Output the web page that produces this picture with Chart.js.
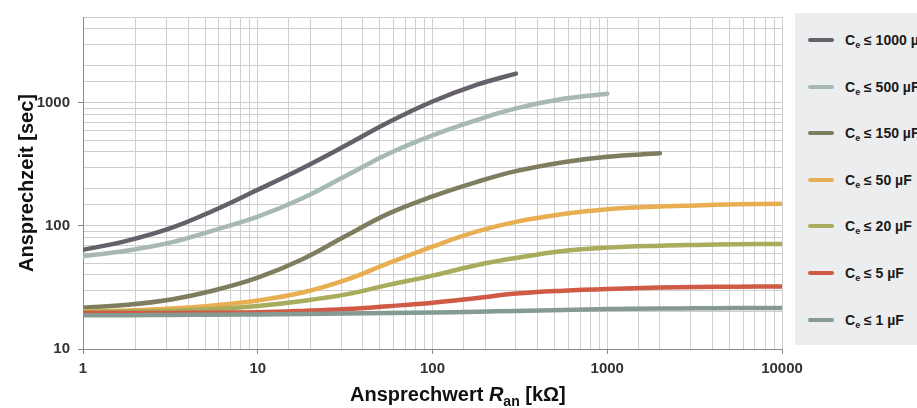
<!DOCTYPE html>
<html>
<head>
<meta charset="utf-8">
<script src="https://cdn.jsdelivr.net/npm/chart.js@4"></script>
<style>
html, body { margin: 0; padding: 0; background: #fff; overflow: hidden; }
#wrap { position: relative; width: 917px; height: 408px; overflow: hidden; }
#legend { position: absolute; left: 795px; top: 13px; width: 150px; height: 332px; background: #ebedef; }
.item { position: absolute; left: 0; height: 20px; width: 150px; font: bold 14px "Liberation Sans", Arial, sans-serif; color: #1a1a1a; white-space: nowrap; }
.item .swatch { position: absolute; left: 13px; top: 8px; width: 26px; height: 4px; border-radius: 2px; }
.item .txt { position: absolute; left: 50px; top: 1px; line-height: 18px; }
.item sub { font-size: 9px; vertical-align: -3px; line-height: 0; }
</style>
</head>
<body>
<div id="wrap">
  <canvas id="chart" width="917" height="408"></canvas>
  <div id="legend"></div>
</div>
<script>
// Ansprechwert R_an [kOhm], roughly quarter-decade steps
var resistance = [1, 1.8, 3.2, 5.6, 10, 18, 32, 56, 100, 180, 300, 560, 1000, 2000, 3200, 5600, 10000];

// Ansprechzeit [sec] per capacitance, null = curve not drawn there
var ce1000 = [64, 76, 96.4, 133.6, 197, 295, 453, 697, 1028, 1410, 1733, null, null, null, null, null, null];
var ce500  = [56.7, 63.1, 73.6, 92.2, 119, 168, 256, 387, 545, 729, 903, 1081, 1190, null, null, null, null];
var ce150  = [21.6, 22.9, 25.3, 29.9, 38, 53.6, 83.2, 126, 174, 228.5, 279, 330, 366, 390, null, null, null];
var ce50   = [20.3, 20.6, 21.3, 22.6, 24.8, 28.8, 36.5, 49.9, 68, 90.3, 108, 125, 137, 144, 146.8, 150, 151.5];
var ce20   = [20, 20.15, 20.5, 21.1, 22.4, 24.6, 27.8, 33.2, 39.5, 48.2, 55, 62.6, 66.7, 69.2, 70.2, 71.1, 71.5];
var ce5    = [19.6, 19.6, 19.65, 19.75, 19.9, 20.4, 21.1, 22.3, 23.8, 26, 28.2, 29.8, 30.8, 31.6, 31.9, 32.1, 32.2];
var ce1    = [18.8, 18.84, 18.9, 19, 19.1, 19.25, 19.4, 19.6, 19.8, 20.1, 20.4, 20.75, 21.1, 21.3, 21.4, 21.5, 21.5];

var seriesNames = ["1000", "500", "150", "50", "20", "5", "1"];
var seriesValues = [ce1000, ce500, ce150, ce50, ce20, ce5, ce1];
var seriesColors = ["#66606a", "#a8b8b3", "#7e7d5f", "#e8ae52", "#a9ab5d", "#d05a46", "#869a94"];

var isPow10 = function (v) {
    var l = Math.log10(v);
    return Math.abs(l - Math.round(l)) < 1e-6;
};

var datasets = seriesValues.map(function (vals, i) {
    return {
        label: "Ce <= " + seriesNames[i] + " µF",
        data: vals.map(function (v, j) { return {x: resistance[j], y: v}; }),
        borderColor: seriesColors[i],
        backgroundColor: seriesColors[i],
        borderWidth: 4.5,
        borderCapStyle: "round",
        pointRadius: 0,
        tension: 0.4,
        spanGaps: false,
        order: seriesValues.length - i
    };
});

// x-axis title has italic R with subscript, so draw it by hand
var xTitlePlugin = {
    id: "xTitle",
    afterDraw: function (chart) {
        var c = chart.ctx;
        var parts = [
            {t: "Ansprechwert ", f: "bold 20px 'Liberation Sans', Arial", dy: 0},
            {t: "R", f: "italic bold 20px 'Liberation Sans', Arial", dy: 0},
            {t: "an", f: "bold 14px 'Liberation Sans', Arial", dy: 5},
            {t: " [kΩ]", f: "bold 20px 'Liberation Sans', Arial", dy: 0}
        ];
        c.save();
        c.fillStyle = "#111";
        c.textBaseline = "alphabetic";
        var x = 350, y = 401;
        parts.forEach(function (p) {
            c.font = p.f;
            c.fillText(p.t, x, y + p.dy);
            x += c.measureText(p.t).width;
        });
        c.restore();
    }
};

var tickFont = {family: "'Liberation Sans Narrow', 'Liberation Sans', Arial", size: 15, weight: "bold"};

window.chart = new Chart(document.getElementById("chart"), {
    type: "line",
    data: {datasets: datasets},
    options: {
        responsive: false,
        animation: false,
        devicePixelRatio: 1,
        layout: {padding: {left: 0, right: 135, top: 15, bottom: 0}},
        plugins: {legend: {display: false}, tooltip: {enabled: false}},
        scales: {
            x: {
                type: "logarithmic",
                min: 1,
                max: 10000,
                afterFit: function (scale) { scale.height = 59; },
                border: {color: "#8a8a8a", width: 1},
                grid: {
                    color: "#cfcfcf",
                    tickLength: 5,
                    tickColor: function (ctx) { return ctx.tick && isPow10(ctx.tick.value) ? "#8a8a8a" : "rgba(0,0,0,0)"; }
                },
                ticks: {
                    autoSkip: false,
                    maxRotation: 0,
                    padding: 6,
                    color: "#333",
                    font: tickFont,
                    callback: function (v) { return isPow10(v) ? String(v) : ""; }
                }
            },
            y: {
                type: "logarithmic",
                min: 10,
                max: 5000,
                afterFit: function (scale) { scale.width = 83; },
                border: {color: "#8a8a8a", width: 1},
                grid: {
                    color: "#cfcfcf",
                    tickLength: 5,
                    tickColor: function (ctx) { return ctx.tick && isPow10(ctx.tick.value) ? "#8a8a8a" : "rgba(0,0,0,0)"; }
                },
                ticks: {
                    autoSkip: false,
                    padding: 8,
                    color: "#333",
                    font: tickFont,
                    callback: function (v) { return isPow10(v) ? String(v) : ""; }
                },
                title: {
                    display: true,
                    text: "Ansprechzeit [sec]",
                    color: "#111",
                    font: {family: "'Liberation Sans', Arial", size: 20, weight: "bold", lineHeight: 1.2},
                    padding: {top: 15, bottom: 0}
                }
            }
        }
    },
    plugins: [xTitlePlugin]
});

// legend box on the right, built from the same arrays
var legendEl = document.getElementById("legend");
seriesNames.forEach(function (name, i) {
    var row = document.createElement("div");
    row.className = "item";
    row.style.top = (27 + i * 46.6 - 10) + "px";
    row.innerHTML = '<span class="swatch" style="background:' + seriesColors[i] + '"></span>' +
        '<span class="txt">C<sub>e</sub> ≤ ' + name + ' µF</span>';
    legendEl.appendChild(row);
});
</script>
</body>
</html>
